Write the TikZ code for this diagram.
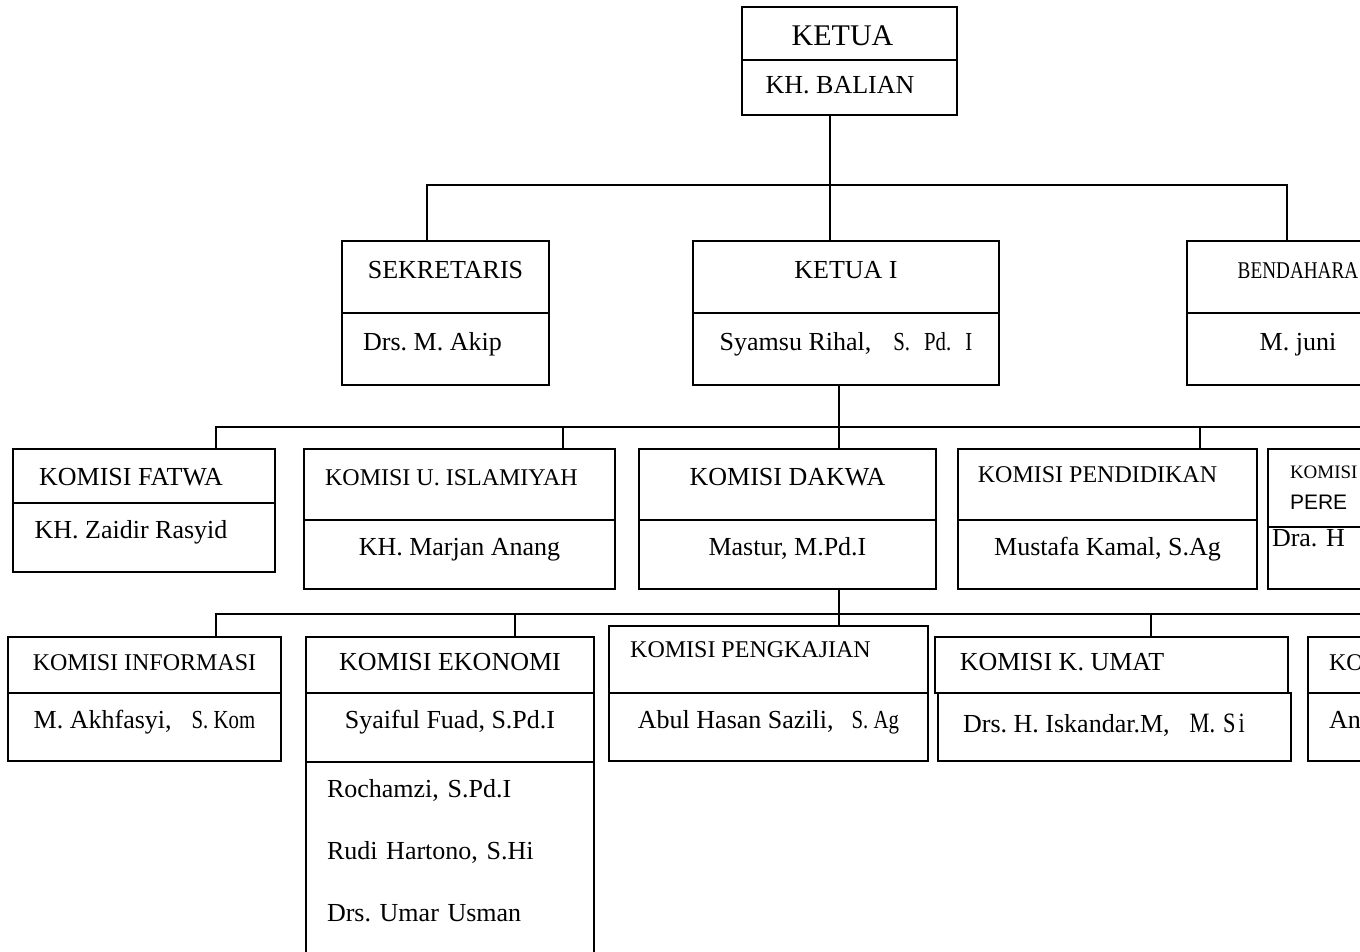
\documentclass[tikz,border=0pt]{standalone}
\usepackage{fontspec}
\setmainfont{Liberation Serif}
\newfontfamily\thinserif{Liberation Serif}[FakeStretch=0.8]
\newfontfamily\arialfont{Liberation Sans}
\usetikzlibrary{positioning}
\newcommand{\fsz}[1]{\fontsize{#1}{#1}\selectfont}

\begin{document}
\frenchspacing
\begin{tikzpicture}[x=1pt, y=-1pt,
	cell/.style={draw, rectangle, line width=1.6pt, inner sep=0pt, outer sep=0pt, text height=18pt, text depth=6.5pt, font=\fsz{26}},
	hd/.style={cell, anchor=north west},
	dn/.style={text depth=0pt},
	upa/.style={text depth=15.6pt},
	upb/.style={text depth=22pt},
	small/.style={font=\fsz{24}},
	lcell/.style={draw, rectangle, line width=1.6pt, outer sep=0pt, align=left},
	bus/.style={line width=1.6pt}]
		\useasboundingbox (0,0) rectangle (1360,951);
		\clip (0,0) rectangle (1360,951);
		% pimpinan
		\node[hd, minimum width=215pt, minimum height=53pt, font=\fsz{30}, text height=24pt, text depth=0pt] (ketua) at (742,7) {KETUA\hspace*{14pt}};
		\node[cell, below=0pt of ketua, minimum width=215pt, minimum height=55pt] (ketuaN) {KH. BALIAN\hspace*{19pt}};
		\node[hd, upa, minimum width=207pt, minimum height=72pt] (sekr) at (342,241) {SEKRETARIS};
		\node[cell, upa, below=0pt of sekr, minimum width=207pt, minimum height=72pt] (sekrN) {Drs. M. Akip\hspace*{26pt}};
		\node[hd, upa, minimum width=306pt, minimum height=72pt] (ketuaI) at (693,241) {KETUA I};
		\node[cell, upa, below=0pt of ketuaI, minimum width=306pt, minimum height=72pt] (ketuaIN) {Syamsu Rihal,\hspace{22pt}{\thinserif S.\hspace{14pt}Pd.\hspace{14pt}I}};
		\node[hd, upa, minimum width=222pt, minimum height=72pt, font=\thinserif\fsz{24}] (bend) at (1187,241) {BENDAHARA};
		\node[cell, upa, below=0pt of bend, minimum width=222pt, minimum height=72pt] (bendN) {M. juni};
		% komisi baris 1
		\node[hd, dn, minimum width=262pt, minimum height=54pt] (fatwa) at (13,449) {KOMISI FATWA\hspace*{26pt}};
		\node[cell, upa, below=0pt of fatwa, minimum width=262pt, minimum height=69pt] (fatwaN) {KH. Zaidir Rasyid\hspace*{26pt}};
		\node[hd, upa, small, minimum width=311pt, minimum height=71pt] (islam) at (304,449) {KOMISI U. ISLAMIYAH\hspace*{16pt}};
		\node[cell, upa, below=0pt of islam, minimum width=311pt, minimum height=69pt] (islamN) {KH. Marjan Anang};
		\node[hd, upa, minimum width=297pt, minimum height=71pt] (dakwa) at (639,449) {KOMISI DAKWA};
		\node[cell, upa, below=0pt of dakwa, minimum width=297pt, minimum height=69pt] (dakwaN) {Mastur, M.Pd.I};
		\node[hd, upb, small, minimum width=299pt, minimum height=71pt] (didik) at (958,449) {KOMISI PENDIDIKAN\hspace*{20pt}};
		\node[cell, upa, below=0pt of didik, minimum width=299pt, minimum height=69pt] (didikN) {Mustafa Kamal, S.Ag};
		\node[lcell, anchor=north west, inner xsep=22pt, inner ysep=0pt, text width=200pt, minimum height=78pt, font=\fontsize{19}{31}\selectfont] (pere) at (1268,449) {KOMISI\\{\arialfont\fontsize{21}{31}\selectfont PERE}};
		\node[cell, align=left, inner xsep=4pt, text width=236pt, text depth=42pt, below=0pt of pere, minimum height=62pt] (pereN) {Dra. H};
		% komisi baris 2
		\node[hd, small, minimum width=273pt, minimum height=56pt] (info) at (8,637) {KOMISI INFORMASI};
		\node[cell, upa, below=0pt of info, minimum width=273pt, minimum height=68pt] (infoN) {M. Akhfasyi,\hspace{20pt}{\thinserif S.\ Kom}};
		\node[hd, minimum width=288pt, minimum height=56pt] (ekon) at (306,637) {KOMISI EKONOMI};
		\node[cell, upa, below=0pt of ekon, minimum width=288pt, minimum height=69pt] (ekonN) {Syaiful Fuad, S.Pd.I};
		\node[lcell, below=0pt of ekonN, inner xsep=21pt, inner ysep=17pt, text width=246pt, font=\fontsize{26}{62}\selectfont] (ekonL) {Rochamzi, S.Pd.I\\Rudi Hartono, S.Hi\\Drs. Umar Usman\\\mbox{}};
		\node[hd, upb, small, minimum width=319pt, minimum height=67pt] (kaji) at (609,626) {KOMISI PENGKAJIAN\hspace*{36pt}};
		\node[cell, upa, below=0pt of kaji, minimum width=319pt, minimum height=68pt] (kajiN) {Abul Hasan Sazili,\hspace{18pt}{\thinserif S.\ Ag}};
		\node[hd, minimum width=353pt, minimum height=56pt] (umat) at (935,637) {KOMISI K. UMAT\hspace*{99pt}};
		\node[cell, below=0pt of umat, xshift=3pt, minimum width=353pt, minimum height=68pt] (umatN) {Drs. H. Iskandar.M,\hspace{20pt}{\thinserif\fsz{28}M.\hspace{8pt}S\hspace{3pt}i}\hspace*{21pt}};
		\node[cell, small, align=left, anchor=north west, inner xsep=21pt, text width=202pt, minimum height=56pt] (ko) at (1308,637) {KO};
		\node[cell, upa, align=left, inner xsep=21pt, text width=202pt, below=0pt of ko, minimum height=68pt] (koN) {An};
		% garis
		\coordinate (b0) at (830,185);
		\coordinate (b0l) at (427,185);
		\coordinate (b0r) at (1287,185);
		\draw[bus] (ketuaN.south -| b0) -- (ketuaI.north -| b0);
		\draw[bus] (sekr.north -| b0l) -- (b0l) -- (b0r) -- (bend.north -| b0r);
		\coordinate (b1) at (839,427);
		\coordinate (b1a) at (216,427);
		\coordinate (b1b) at (563,427);
		\coordinate (b1d) at (1200,427);
		\coordinate (b1e) at (1370,427);
		\draw[bus] (ketuaIN.south -| b1) -- (dakwa.north -| b1);
		\draw[bus] (fatwa.north -| b1a) -- (b1a) -- (b1e);
		\foreach \n/\c in {islam/b1b, didik/b1d}{
			\draw[bus] (\n.north -| \c) -- (\c);
		}
		\coordinate (b2) at (839,614);
		\coordinate (b2a) at (216,614);
		\coordinate (b2b) at (515,614);
		\coordinate (b2d) at (1151,614);
		\coordinate (b2e) at (1370,614);
		\draw[bus] (dakwaN.south -| b2) -- (kaji.north -| b2);
		\draw[bus] (info.north -| b2a) -- (b2a) -- (b2e);
		\foreach \n/\c in {ekon/b2b, umat/b2d}{
			\draw[bus] (\n.north -| \c) -- (\c);
		}
\end{tikzpicture}
\end{document}
